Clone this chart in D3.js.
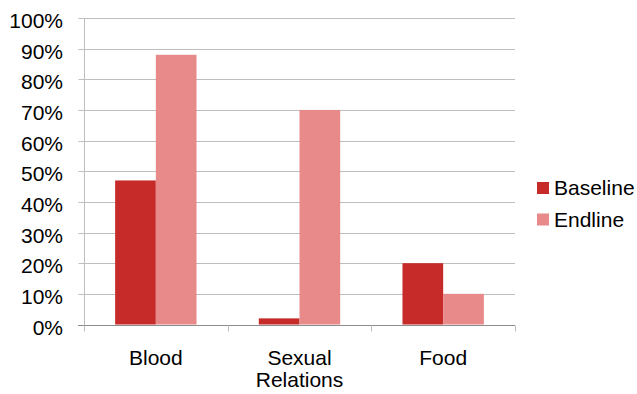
<!DOCTYPE html>
<html>
<head>
<meta charset="utf-8">
<script src="https://cdn.jsdelivr.net/npm/d3@7"></script>
<style>
  html, body { margin: 0; padding: 0; background: #fff; }
  svg { display: block; }
  text { font-family: "Liberation Sans", Arial, sans-serif; fill: #000; }
</style>
</head>
<body>
<svg id="chart" width="637" height="394"></svg>
<script>
// Survey topics along the x axis
const categories = ["Blood", "Sexual Relations", "Food"];
// Share of respondents per topic
const baseline = [0.47, 0.02, 0.20];
const endline = [0.88, 0.70, 0.10];
const seriesNames = ["Baseline", "Endline"];
const seriesColors = ["#C62B29", "#E88A8A"];
const yTicks = [0, 0.1, 0.2, 0.3, 0.4, 0.5, 0.6, 0.7, 0.8, 0.9, 1.0];

const svg = d3.select("#chart");
const plotLeft = 84, plotRight = 515, plotTop = 18, plotBottom = 324.5;
const fontSize = 21;

const x0 = d3.scaleBand().domain(categories).range([plotLeft, plotRight]).paddingInner(0).paddingOuter(0);
const x1 = d3.scaleBand().domain(seriesNames).range([0, x0.bandwidth()]).paddingInner(0).paddingOuter(0.765);
const y = d3.scaleLinear().domain([0, 1]).range([plotBottom, plotTop]);
const color = d3.scaleOrdinal().domain(seriesNames).range(seriesColors);

// Horizontal gridlines
svg.append("g")
  .selectAll("line")
  .data(yTicks.filter(d => d > 0))
  .join("line")
  .attr("x1", plotLeft).attr("x2", plotRight)
  .attr("y1", d => Math.round(y(d)) + 0.5).attr("y2", d => Math.round(y(d)) + 0.5)
  .attr("stroke", "#BEBEBE").attr("stroke-width", 1);

// Y axis with percent labels
const yAxis = d3.axisLeft(y).tickValues(yTicks).tickFormat(d3.format(".0%")).tickSize(6).tickPadding(15.5);
const gy = svg.append("g").attr("transform", `translate(${plotLeft + 0.5},0)`).call(yAxis);
gy.select(".domain").remove();
gy.selectAll(".tick line").attr("stroke", "#BEBEBE");
gy.selectAll(".tick").attr("transform", d => `translate(0,${Math.round(y(d)) + 0.5})`);
gy.selectAll(".tick text")
  .attr("font-size", fontSize)
  .attr("font-family", "'Liberation Sans', Arial, sans-serif")
  .attr("fill", "#000")
  .attr("dy", "0.45em");
gy.append("line")
  .attr("x1", 0).attr("x2", 0)
  .attr("y1", plotTop).attr("y2", plotBottom + 6)
  .attr("stroke", "#BEBEBE");

// Bars
const rows = categories.map((c, i) => ({ category: c, values: [
  { series: seriesNames[0], value: baseline[i] },
  { series: seriesNames[1], value: endline[i] }
]}));

svg.append("g")
  .selectAll("g")
  .data(rows)
  .join("g")
  .attr("transform", d => `translate(${x0(d.category)},0)`)
  .selectAll("rect")
  .data(d => d.values)
  .join("rect")
  .attr("x", d => x1(d.series))
  .attr("width", x1.bandwidth())
  .attr("y", d => y(d.value))
  .attr("height", d => y(0) - y(d.value))
  .attr("fill", d => color(d.series));

// X axis line and category dividers
const baseY = Math.round(y(0)) + 0.5;
svg.append("line")
  .attr("x1", plotLeft - 6).attr("x2", plotRight)
  .attr("y1", baseY).attr("y2", baseY)
  .attr("stroke", "#8C8C8C");
const dividers = categories.map(c => x0(c)).concat([plotRight]);
svg.append("g")
  .selectAll("line")
  .data(dividers)
  .join("line")
  .attr("x1", d => Math.round(d) + 0.5).attr("x2", d => Math.round(d) + 0.5)
  .attr("y1", baseY).attr("y2", baseY + 6)
  .attr("stroke", "#BEBEBE");

// Category labels, wrapped onto separate lines
const labelLines = { "Blood": ["Blood"], "Sexual Relations": ["Sexual", "Relations"], "Food": ["Food"] };
svg.append("g")
  .selectAll("text")
  .data(categories)
  .join("text")
  .attr("x", d => x0(d) + x0.bandwidth() / 2)
  .attr("y", 365)
  .attr("text-anchor", "middle")
  .attr("font-size", fontSize)
  .each(function (d) {
    const t = d3.select(this);
    labelLines[d].forEach((line, i) => {
      t.append("tspan")
        .attr("x", x0(d) + x0.bandwidth() / 2)
        .attr("dy", i === 0 ? 0 : 22)
        .text(line);
    });
  });

// Legend
const legend = svg.append("g")
  .selectAll("g")
  .data(seriesNames)
  .join("g")
  .attr("transform", (d, i) => `translate(537,${182 + i * 31.5})`);
legend.append("rect")
  .attr("width", 12).attr("height", 12)
  .attr("fill", d => color(d));
legend.append("text")
  .attr("x", 17).attr("y", 13)
  .attr("font-size", fontSize)
  .text(d => d);
</script>
</body>
</html>
